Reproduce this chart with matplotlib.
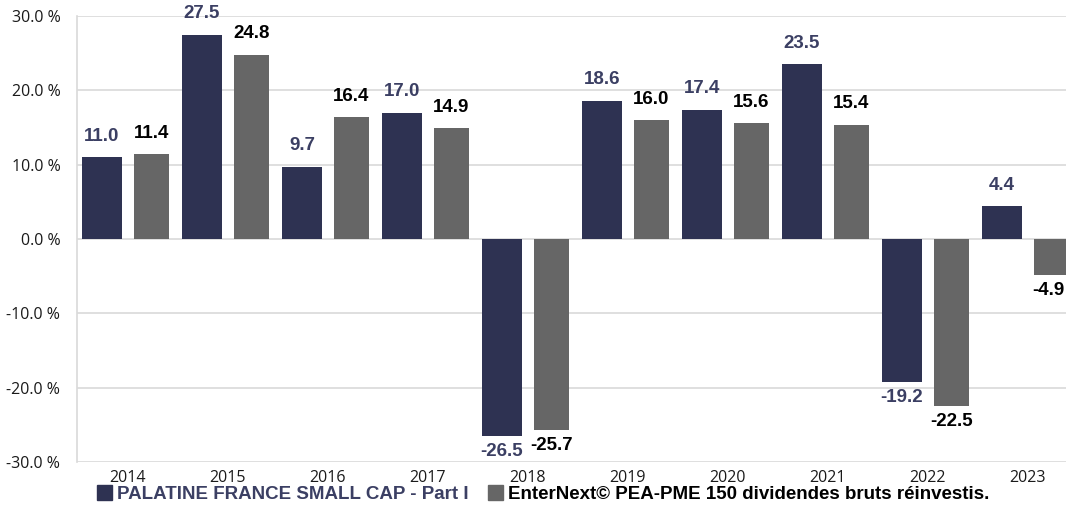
import matplotlib
matplotlib.use("Agg")
import matplotlib.pyplot as plt
from matplotlib.patches import Rectangle
import numpy as np

years = ["2014", "2015", "2016", "2017", "2018", "2019", "2020", "2021", "2022", "2023"]
palatine = [11.0, 27.5, 9.7, 17.0, -26.5, 18.6, 17.4, 23.5, -19.2, 4.4]
enternext = [11.4, 24.8, 16.4, 14.9, -25.7, 16.0, 15.6, 15.4, -22.5, -4.9]
series_names = ["PALATINE FRANCE SMALL CAP - Part I",
                "EnterNext© PEA-PME 150 dividendes bruts réinvestis."]
yticks = [-30, -20, -10, 0, 10, 20, 30]

navy = "#2E3252"
navy_txt = "#3B3F63"
gray = "#666666"
grid_c = "#D9D9D9"

fig = plt.figure(figsize=(10.66, 5.17), dpi=100)
ax = fig.add_axes([77/1066, 55/517, 1 - 77/1066, (462-16)/517])

x = np.arange(len(years))
b1 = ax.bar(x - 0.25, palatine, width=0.40, color=navy, zorder=3)
b2 = ax.bar(x + 0.245, enternext, width=0.35, color=gray, zorder=3)

def label(bars, vals, color, last_shift=0):
    n = len(vals)
    for i, (b, v) in enumerate(zip(bars, vals)):
        cx = b.get_x() + b.get_width() / 2
        dx = last_shift if i == n - 1 else 0
        if v >= 0:
            ax.annotate(f"{v:.1f}", (cx, v), xytext=(dx, 9), textcoords="offset points",
                        ha="center", va="bottom", color=color, fontsize=13.5,
                        fontweight="bold", family="Liberation Sans", clip_on=False, zorder=5)
        else:
            ax.annotate(f"{v:.1f}", (cx, v), xytext=(dx, -5), textcoords="offset points",
                        ha="center", va="top", color=color, fontsize=13.5,
                        fontweight="bold", family="Liberation Sans", clip_on=False, zorder=5)

label(b1, palatine, navy_txt)
label(b2, enternext, "black", last_shift=-2.5)

ax.set_ylim(-30, 30)
ax.set_xlim(-0.5, 9.39)
ax.set_yticks(yticks)
ax.set_yticklabels([f"{t:.1f} %" for t in yticks], family="Open Sans", fontsize=11.5, color="#1a1a1a")
ax.set_xticks(x)
ax.set_xticklabels(years, family="Open Sans", fontsize=11.5, color="#1a1a1a")
ax.tick_params(axis="both", length=0)
ax.tick_params(axis="y", pad=12)
ax.tick_params(axis="x", pad=6)
ax.grid(axis="y", color=grid_c, linewidth=1.2, zorder=0)
for s in ["top", "right", "bottom"]:
    ax.spines[s].set_visible(False)
ax.spines["left"].set_color(grid_c)
ax.spines["left"].set_linewidth(1.2)

handles = [Rectangle((0, 0), 1, 1, color=navy), Rectangle((0, 0), 1, 1, color=gray)]
leg = fig.legend(handles, series_names, loc="center", bbox_to_anchor=(543/1066, 1 - 494/517),
                 ncol=2, frameon=False, prop={"family": "Liberation Sans", "weight": "bold", "size": 13.5},
                 handlelength=0.8, handleheight=0.8, handletextpad=0.3, columnspacing=1.0)
leg.get_texts()[0].set_color(navy_txt)
leg.get_texts()[1].set_color("black")

fig.savefig("out.png", dpi=100, facecolor="white")
